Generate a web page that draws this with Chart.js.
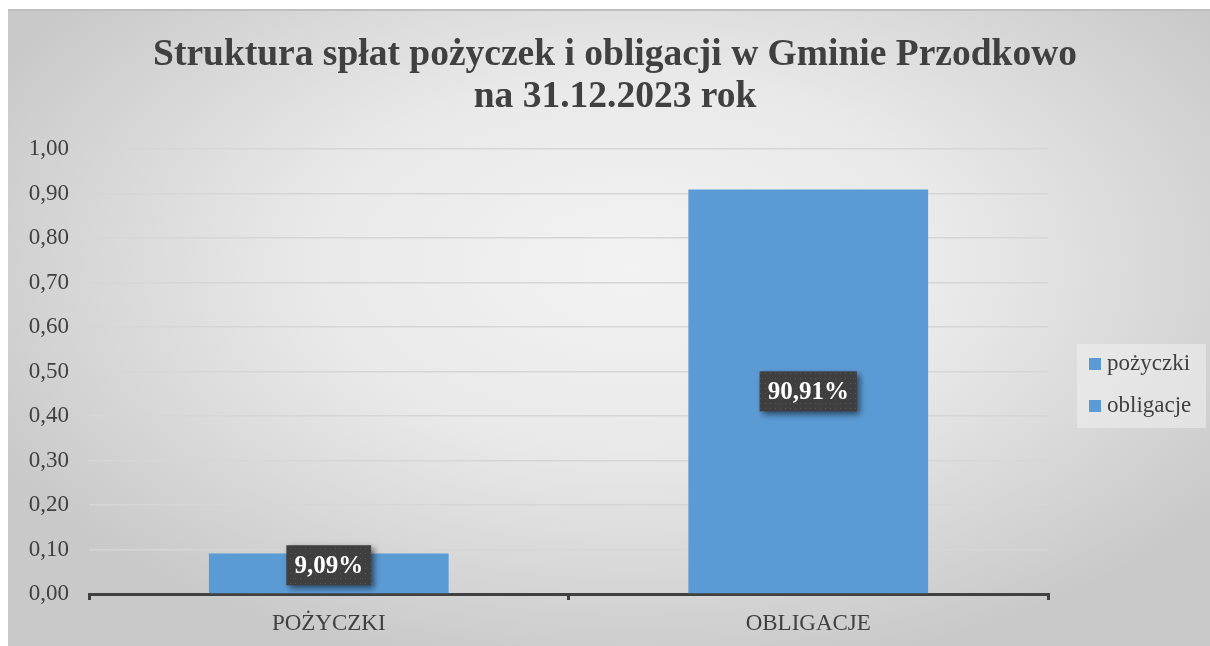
<!DOCTYPE html>
<html>
<head>
<meta charset="utf-8">
<script src="https://cdn.jsdelivr.net/npm/chart.js@4"></script>
<style>
  body { margin: 0; background: #fff; }
  #wrap {
    position: absolute; left: 8px; top: 9px; width: 1202px; height: 637px;
    border-top: 2px solid #bfbfbf; box-sizing: border-box;
    background: radial-gradient(ellipse 60% 65% at 52% 40%, #f3f3f3 0%, #e9e9e9 45%, #c9c9c9 100%);
  }
</style>
</head>
<body>
<div id="wrap"><canvas id="chart"></canvas></div>
<script>
const categories = ['pożyczki', 'obligacje'];
const axisLabels = ['POŻYCZKI', 'OBLIGACJE'];
const shares = [0.0909, 0.9091];
const valueLabels = ['9,09%', '90,91%'];
const titleLines = ['Struktura spłat pożyczek i obligacji w Gminie Przodkowo', 'na 31.12.2023 rok'];

const serif = '"Liberation Serif", "Times New Roman", serif';
const barColor = '#5B9BD5';

// dotted dark fill for the value boxes
function dotPattern(ctx) {
  const c = document.createElement('canvas');
  c.width = 5; c.height = 5;
  const p = c.getContext('2d');
  p.fillStyle = '#3f3f3f';
  p.fillRect(0, 0, 5, 5);
  p.fillStyle = '#575757';
  p.fillRect(2, 2, 1, 1);
  return ctx.createPattern(c, 'repeat');
}

const valueBoxes = {
  id: 'valueBoxes',
  afterDatasetsDraw(chart) {
    const ctx = chart.ctx;
    const meta = chart.getDatasetMeta(0);
    ctx.save();
    ctx.font = 'bold 25px ' + serif;
    meta.data.forEach((bar, i) => {
      const { x, y, base } = bar.getProps(['x', 'y', 'base'], true);
      const txt = valueLabels[i];
      const w = ctx.measureText(txt).width + 16;
      const h = 40;
      let cy = (y + base) / 2;
      cy = Math.min(cy, base - h / 2 - 8);
      ctx.save();
      ctx.shadowColor = 'rgba(0,0,0,0.55)';
      ctx.shadowBlur = 6;
      ctx.shadowOffsetX = 3;
      ctx.shadowOffsetY = 3;
      ctx.fillStyle = dotPattern(ctx);
      ctx.fillRect(x - w / 2, cy - h / 2, w, h);
      ctx.restore();
      ctx.fillStyle = '#ffffff';
      ctx.textAlign = 'center';
      ctx.textBaseline = 'middle';
      ctx.fillText(txt, x, cy + 1);
    });
    ctx.restore();
  }
};

const sideLegend = {
  id: 'sideLegend',
  afterDraw(chart) {
    const ctx = chart.ctx;
    const left = chart.chartArea.right + 29;
    const top = 333;
    ctx.save();
    ctx.fillStyle = 'rgba(240,240,240,0.55)';
    ctx.fillRect(left, top, 129, 84);
    ctx.font = '23px ' + serif;
    ctx.textBaseline = 'middle';
    categories.forEach((name, i) => {
      const cy = top + 20 + i * 42;
      ctx.fillStyle = barColor;
      ctx.fillRect(left + 12, cy - 6, 12, 12);
      ctx.fillStyle = '#404040';
      ctx.fillText(name, left + 30, cy);
    });
    ctx.restore();
  }
};

new Chart(document.getElementById('chart'), {
  type: 'bar',
  data: {
    labels: axisLabels,
    datasets: [{
      label: 'udział',
      data: shares,
      backgroundColor: barColor,
      barPercentage: 0.5,
      categoryPercentage: 1
    }]
  },
  options: {
    responsive: true,
    maintainAspectRatio: false,
    animation: false,
    layout: { padding: { left: 12, right: 0, top: 0, bottom: 0 } },
    plugins: {
      legend: { display: false },
      tooltip: { enabled: false },
      title: {
        display: true,
        text: titleLines,
        color: '#404040',
        font: { family: serif, size: 37.5, weight: 'bold', lineHeight: 1.12 },
        padding: { top: 23, bottom: 31 }
      }
    },
    scales: {
      x: {
        afterFit(scale) { scale.height = 52; },
        border: { display: true, color: '#404040', width: 3 },
        grid: { display: true, drawOnChartArea: false, drawTicks: true, tickLength: 6, color: '#404040', lineWidth: 3 },
        ticks: { color: '#404040', padding: 10, font: { family: serif, size: 23 } }
      },
      y: {
        min: 0,
        max: 1,
        afterFit(scale) { scale.width = 69; },
        border: { display: false },
        grid: { color: '#d6d6d6', lineWidth: 1.5, drawTicks: false },
        ticks: {
          stepSize: 0.1,
          padding: 20,
          color: '#404040',
          font: { family: serif, size: 23 },
          callback: v => v.toFixed(2).replace('.', ',')
        }
      },
      // empty right-hand space that holds the legend
      side: {
        position: 'right',
        display: true,
        afterFit(scale) { scale.width = 162; },
        border: { display: false },
        grid: { display: false },
        ticks: { display: false }
      }
    }
  },
  plugins: [valueBoxes, sideLegend]
});
</script>
</body>
</html>
